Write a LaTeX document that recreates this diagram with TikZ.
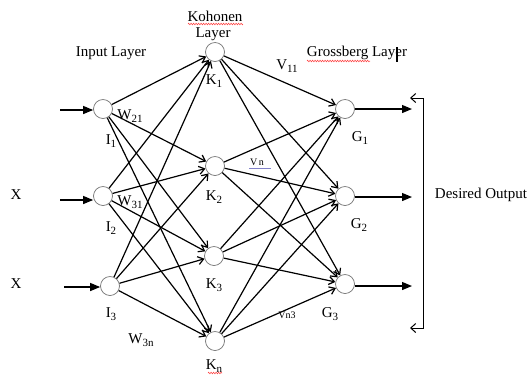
\documentclass[tikz,border=0pt]{standalone}
\usepackage{fontspec}
\setmainfont{Liberation Serif}
\usetikzlibrary{arrows.meta,decorations.pathmorphing}
\newcommand{\sbs}[1]{\raisebox{-3pt}{\fontsize{11}{11}\selectfont #1}}
\begin{document}
\begin{tikzpicture}[x=1pt,y=-1pt,
 neuron/.style={circle,draw=black!55,line width=0.7pt,minimum size=19pt,inner sep=0pt},
 lbl/.style={font=\fontsize{15}{17}\selectfont,inner sep=0pt},
 smalllbl/.style={font=\fontsize{10}{11}\selectfont,inner sep=0pt},
 conn/.style={line width=1.2pt,-{Straight Barb[length=5.5pt,width=8pt]}},
 feed/.style={line width=1.2pt,-{Triangle[length=10pt,width=8pt]}},
 back/.style={line width=1pt,{Straight Barb[length=5pt,width=9pt]}-{Straight Barb[length=5pt,width=9pt]}},
 wavy/.style={red!80,line width=0.5pt,decorate,decoration={zigzag,amplitude=0.8pt,segment length=2.5pt}}]
\useasboundingbox (0,0) rectangle (529,376);
\fill[white] (0,0) rectangle (529,376);

% neurons
\node[neuron] (I1) at (103,109) {};
\node[neuron] (I2) at (103,196) {};
\node[neuron] (I3) at (110,286) {};
\node[neuron] (K1) at (215,52) {};
\node[neuron] (K2) at (215,166) {};
\node[neuron] (K3) at (214,256) {};
\node[neuron] (Kn) at (215,341) {};
\node[neuron] (G1) at (345,109) {};
\node[neuron] (G2) at (345,196) {};
\node[neuron] (G3) at (345,284) {};

% connections
\foreach \i in {I1,I2,I3}{
  \foreach \k in {K1,K2,K3,Kn}{
    \draw[conn] (\i) -- (\k);
  }
}
\foreach \k in {K1,K2,K3,Kn}{
  \foreach \g in {G1,G2,G3}{
    \draw[conn] (\k) -- (\g);
  }
}

% inputs
\coordinate (in1) at (60,110);
\coordinate (in2) at (60,200);
\coordinate (in3) at (64,287);
\draw[feed] (in1) -- (in1 -| I1.west);
\draw[feed] (in2) -- (in2 -| I2.west);
\draw[feed] (in3) -- (in3 -| I3.west);

% outputs
\coordinate (o1) at (412,109);
\coordinate (o2) at (412,197);
\coordinate (o3) at (412,286);
\draw[feed] (o1 -| G1.east) -- (o1);
\draw[feed] (o2 -| G2.east) -- (o2);
\draw[feed] (o3 -| G3.east) -- (o3);

% desired output bracket
\coordinate (bt) at (423,98);
\coordinate (bb) at (423,328);
\coordinate (btl) at (410,98);
\coordinate (bbl) at (410,328);
\draw[back] (btl) -- (bt) -- (bb) -- (bbl);

% labels
\node[lbl] (tIn) at (111,53) {Input Layer};
\node[lbl] (tKo) at (215,16) {Kohonen};
\node[lbl] (tKl) at (213,34) {Layer};
\node[lbl] (tGr) at (357,53) {Grossberg Layer};
\node[lbl] (tDe) at (481,195) {Desired Output};
\node[lbl] (tX1) at (16,195) {X};
\node[lbl] (tX2) at (16,284) {X};

\node[lbl] (lI1) at (111,141) {I\sbs{1}};
\node[lbl] (lI2) at (111,228) {I\sbs{2}};
\node[lbl] (lI3) at (111,314) {I\sbs{3}};
\node[lbl] (lK1) at (214,81) {K\sbs{1}};
\node[lbl] (lK2) at (214,197) {K\sbs{2}};
\node[lbl] (lK3) at (214,285) {K\sbs{3}};
\node[lbl] (lKn) at (214,366) {K\sbs{n}};
\node[lbl] (lG1) at (360,138) {G\sbs{1}};
\node[lbl] (lG2) at (359,225) {G\sbs{2}};
\node[lbl] (lG3) at (330,314) {G\sbs{3}};

\node[lbl] (lV11) at (287,66) {V\sbs{11}};
\node[lbl] (lW21) at (130,116) {W\sbs{21}};
\node[lbl] (lW31) at (130,202) {W\sbs{31}};
\node[lbl] (lW3n) at (141,340) {W\sbs{3n}};
\node[smalllbl] (lVn) at (257,162) {V\,n};
\node[smalllbl] (lVn3) at (287,315) {Vn3};

% spell-check marks and cursor
\coordinate (u1a) at (188,24); \coordinate (u1b) at (243,24);
\draw[wavy] (u1a) -- (u1b);
\coordinate (u2a) at (307,61); \coordinate (u2b) at (370,61);
\draw[wavy] (u2a) -- (u2b);
\coordinate (u3a) at (208,373); \coordinate (u3b) at (222,373);
\draw[wavy] (u3a) -- (u3b);
\coordinate (bla) at (249,168); \coordinate (blb) at (271,168);
\draw[blue!40!gray!70,line width=0.5pt] (bla) -- (blb);
\coordinate (ca) at (397,47); \coordinate (cb) at (397,62);
\draw[line width=1.4pt] (ca) -- (cb);
\end{tikzpicture}
\end{document}
